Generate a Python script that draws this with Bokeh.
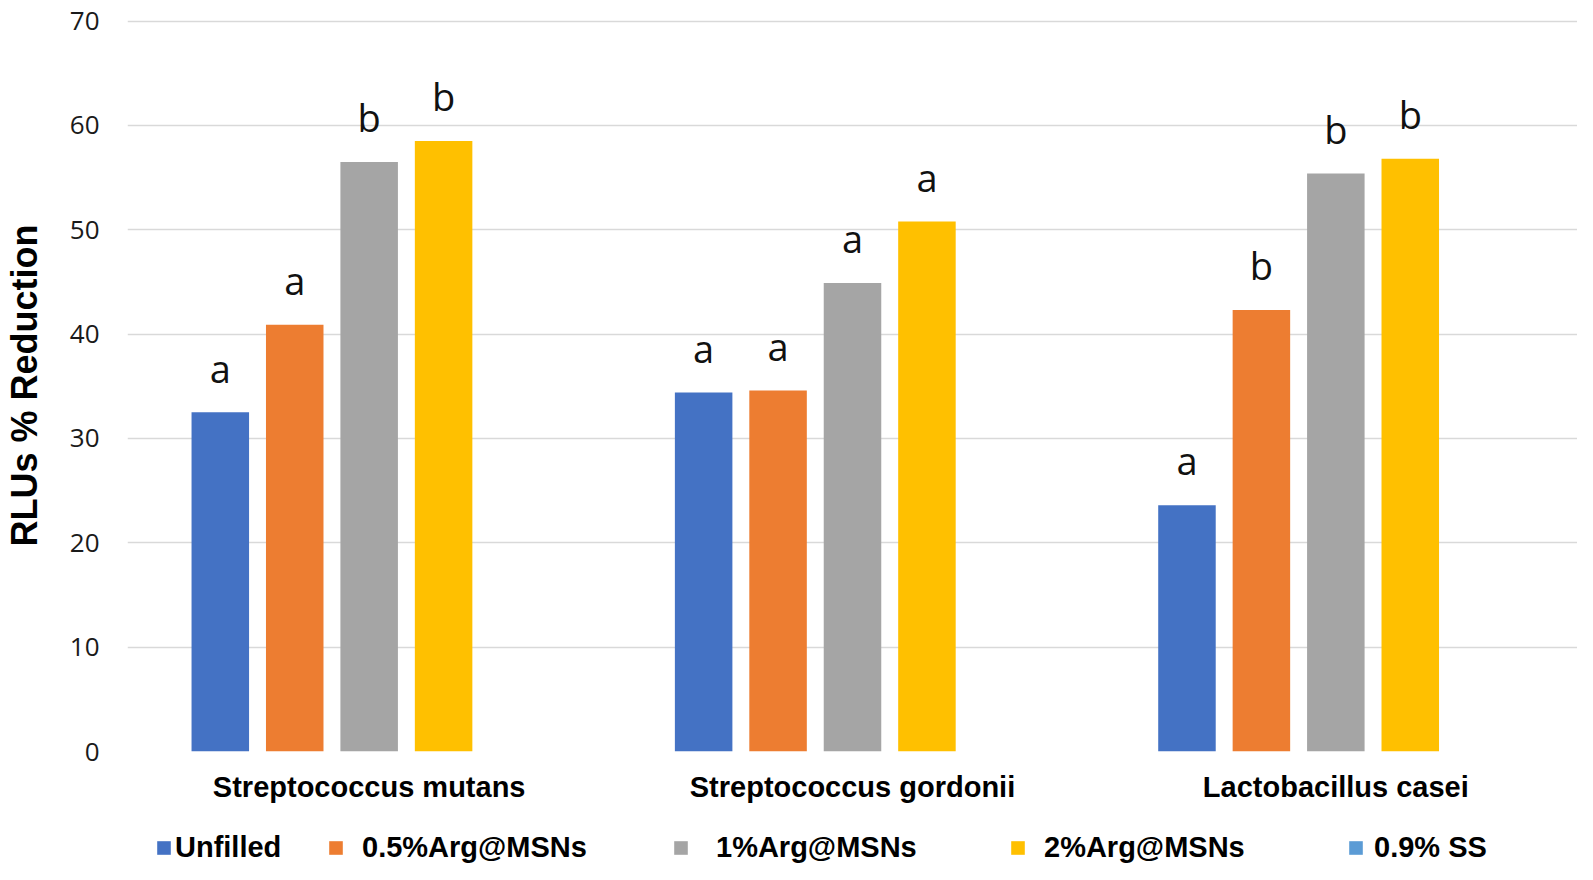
from bokeh.plotting import figure
from bokeh.layouts import column
from bokeh.models import (ColumnDataSource, FactorRange, FixedTicker, Legend, LegendItem, Range1d)
from bokeh.transform import dodge
from bokeh.core.properties import value
from bokeh.embed import file_html
from bokeh.resources import INLINE

# ---- data ----
categories = ["Streptococcus mutans", "Streptococcus gordonii", "Lactobacillus casei"]
series_names = ["Unfilled", "0.5%Arg@MSNs", "1%Arg@MSNs", "2%Arg@MSNs", "0.9% SS"]
unfilled = [32.5, 34.4, 23.6]
arg05 = [40.9, 34.6, 42.3]
arg1 = [56.5, 44.9, 55.4]
arg2 = [58.5, 50.8, 56.8]
ss09 = [0, 0, 0]
letters_unfilled = ["a", "a", "a"]
letters_arg05 = ["a", "a", "b"]
letters_arg1 = ["b", "a", "b"]
letters_arg2 = ["b", "a", "b"]
y_ticks = [0, 10, 20, 30, 40, 50, 60, 70]

series_values = [unfilled, arg05, arg1, arg2, ss09]
series_letters = [letters_unfilled, letters_arg05, letters_arg1, letters_arg2, None]
colors = ["#4472C4", "#ED7D31", "#A5A5A5", "#FFC000", "#5B9BD5"]

xr = FactorRange(*categories)
p = figure(x_range=xr, y_range=(0, 70.15),
           width=1577, height=813, output_backend="svg", toolbar_location=None,
           min_border_left=117, min_border_right=0, min_border_top=19, min_border_bottom=62)

# legend strip below the chart (same series, its y window shows no bars)
p2 = figure(x_range=xr, y_range=Range1d(100, 101), width=1577, height=51,
            output_backend="svg", toolbar_location=None,
            x_axis_location=None, y_axis_location=None,
            min_border_left=0, min_border_right=0, min_border_top=0, min_border_bottom=0)
p2.grid.grid_line_color = None
p2.outline_line_color = None

slot = 0.154
bar_w = 0.119
legend_renderers = []
for i, (vals, col) in enumerate(zip(series_values, colors)):
    off = (i - 2) * slot
    src = ColumnDataSource(dict(cat=categories, val=vals))
    p.vbar(x=dodge("cat", off, range=xr), top="val", width=bar_w, source=src,
           fill_color=col, line_color=None)
    r2 = p2.vbar(x=dodge("cat", off, range=xr), top="val", width=bar_w, source=src,
                 fill_color=col, line_color=None)
    legend_renderers.append(r2)
    labs = series_letters[i]
    if labs is not None:
        lsrc = ColumnDataSource(dict(cat=categories, y=[v + 4.3 for v in vals], t=labs))
        p.text(x=dodge("cat", off, range=xr), y="y", text="t", source=lsrc,
               text_align="center", text_baseline="middle",
               text_font=value("Open Sans"), text_font_size="38px", text_color="#111111")

# axes
p.yaxis.ticker = FixedTicker(ticks=y_ticks)
p.yaxis.axis_label = "RLUs % Reduction"
p.yaxis.axis_label_text_font = "Liberation Sans"
p.yaxis.axis_label_text_font_style = "bold"
p.yaxis.axis_label_text_font_size = "36px"
p.yaxis.axis_label_text_color = "#000000"
p.yaxis.axis_label_standoff = 22
p.yaxis.major_label_text_font = "Open Sans"
p.yaxis.major_label_text_font_size = "26px"
p.yaxis.major_label_text_color = "#1a1a1a"
p.yaxis.major_label_standoff = 22
p.yaxis.axis_line_color = None
p.yaxis.major_tick_line_color = None
p.yaxis.minor_tick_line_color = None

p.xaxis.major_label_text_font = "Liberation Sans"
p.xaxis.major_label_text_font_style = "bold"
p.xaxis.major_label_text_font_size = "29px"
p.xaxis.major_label_text_color = "#000000"
p.xaxis.major_label_standoff = 13
p.xaxis.axis_line_color = None
p.xaxis.major_tick_line_color = None
p.xaxis.minor_tick_line_color = None

p.xgrid.grid_line_color = None
p.ygrid.grid_line_color = "#D9D9D9"
p.ygrid.grid_line_width = 1.5
p.outline_line_color = None

# one single-item legend per series, each at its own place in the strip
leg_x = [28, 200, 545, 882, 1220]
leg_standoff = [3, 18, 27, 18, 10]
for i, name in enumerate(series_names):
    leg = Legend(items=[LegendItem(label=name, renderers=[legend_renderers[i]])],
                 location=(leg_x[i], 0), orientation="horizontal",
                 glyph_width=17, glyph_height=17, label_standoff=leg_standoff[i],
                 padding=0, margin=0, spacing=0, border_line_color=None,
                 background_fill_alpha=0,
                 label_text_font="Liberation Sans", label_text_font_style="bold",
                 label_text_font_size="29px", label_text_color="#000000")
    p2.add_layout(leg, "center")

open("out.html", "w").write(file_html(column(p, p2, spacing=0), INLINE))
